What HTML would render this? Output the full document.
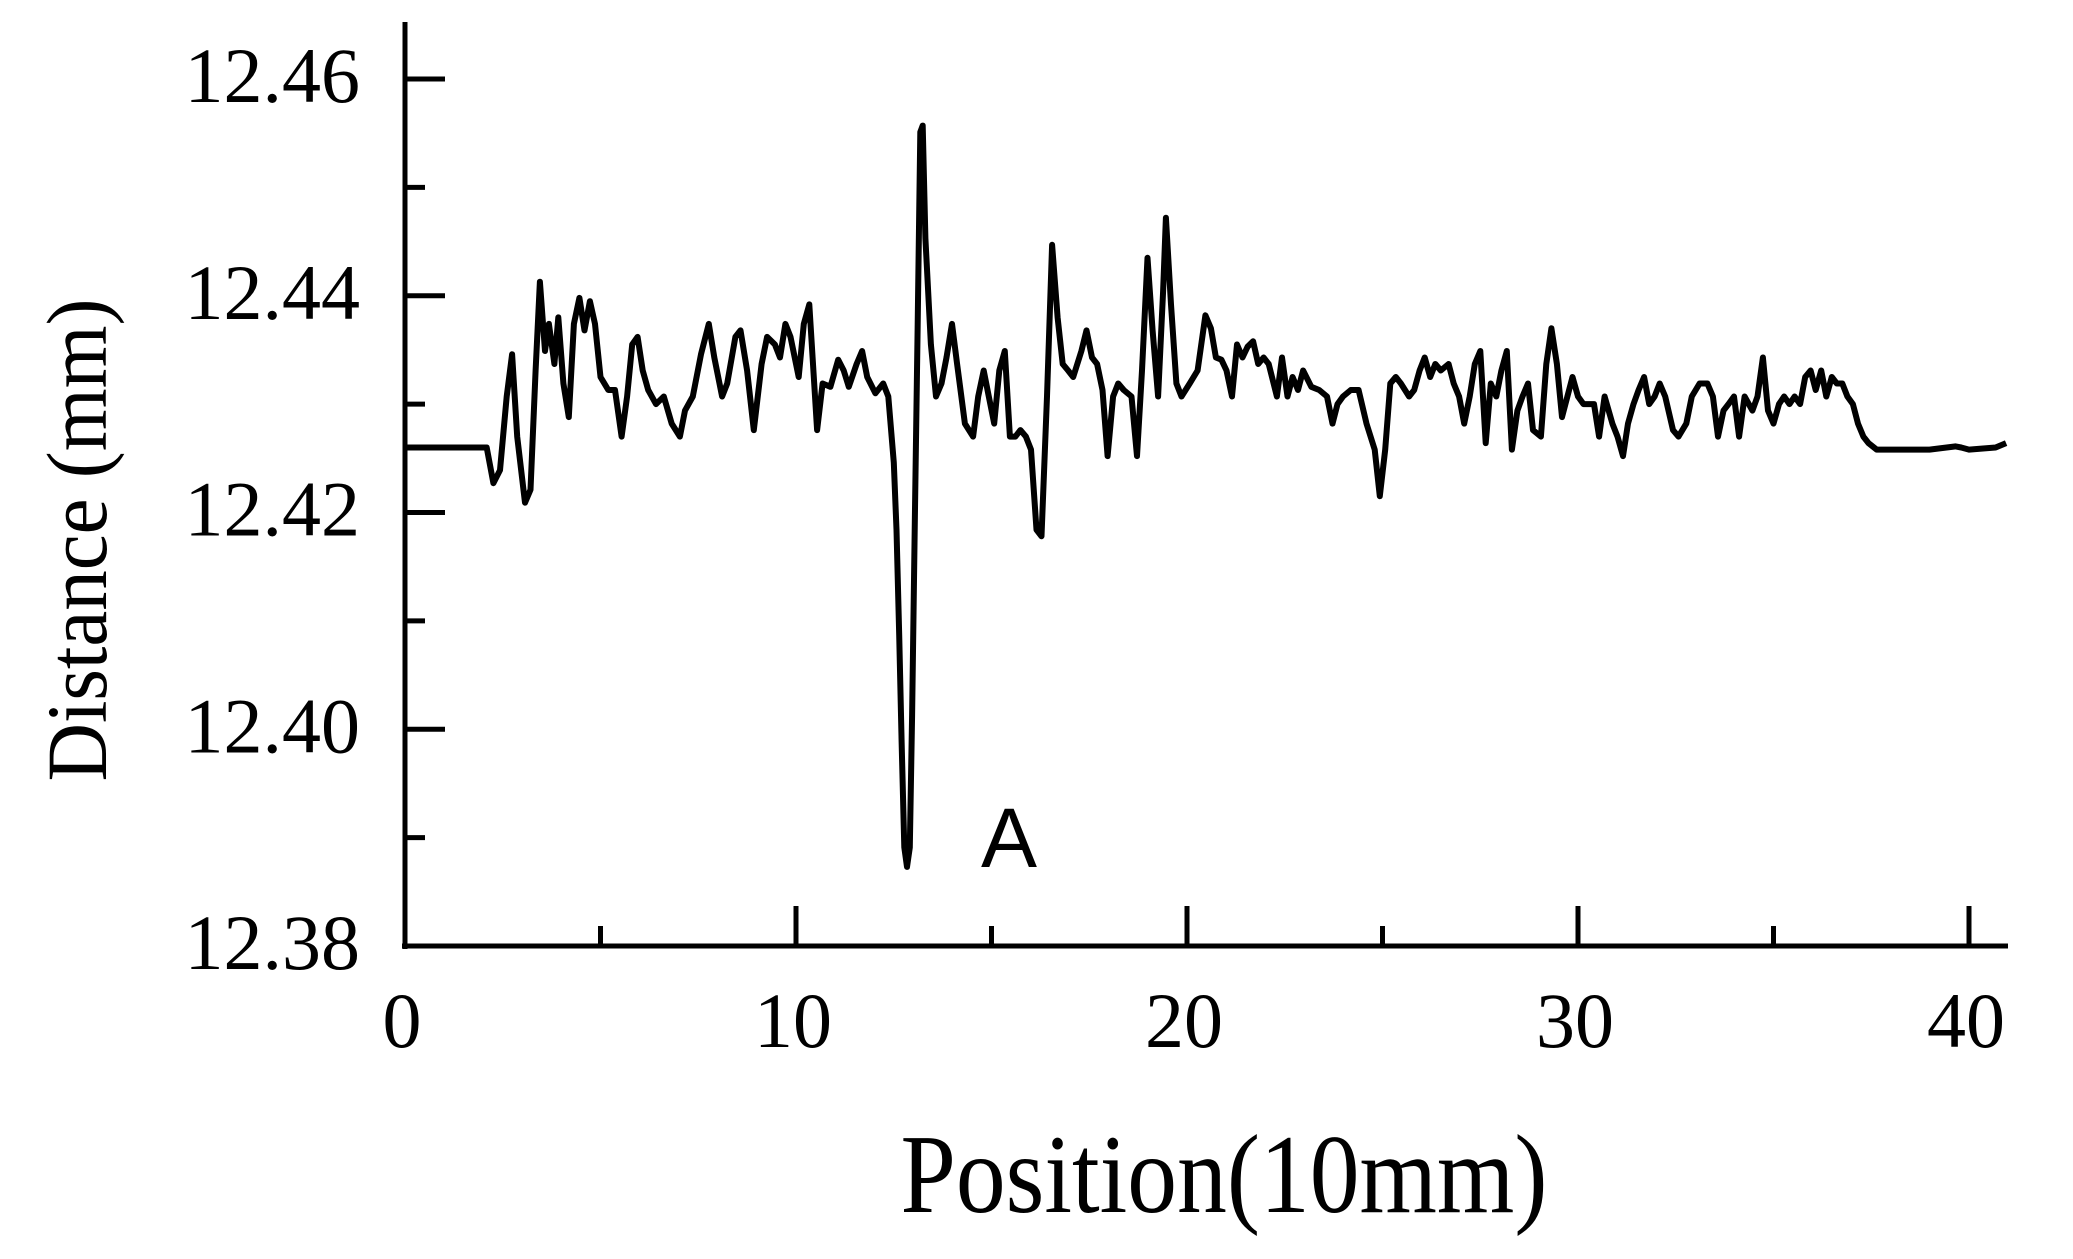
<!DOCTYPE html>
<html><head><meta charset="utf-8"><style>
html,body{margin:0;padding:0;background:#fff;}
svg{display:block;}
text{font-family:"Liberation Serif",serif;fill:#000;}
</style></head><body>
<svg id="chart" width="2073" height="1259" viewBox="0 0 2073 1259" xmlns="http://www.w3.org/2000/svg">
<g id="axes"></g>
<g id="series"></g>
<text transform="translate(106,540) rotate(-90)" text-anchor="middle" font-size="86" textLength="483" lengthAdjust="spacingAndGlyphs">Distance (mm)</text>
<text x="1224" y="1212" text-anchor="middle" font-size="112" textLength="647" lengthAdjust="spacingAndGlyphs">Position(10mm)</text>
<text x="1009" y="867" text-anchor="middle" font-size="84" style="font-family:'Liberation Sans',sans-serif">A</text>
</svg>
<script>
const xTicks=[0,10,20,30,40];
const xMinorTicks=[5,15,25,35];
const yTicks=[12.38,12.40,12.42,12.44,12.46];
const yTickLabels=["12.38","12.40","12.42","12.44","12.46"];
const yMinorTicks=[12.39,12.41,12.43,12.45];
const posX=[0,2.09,2.26,2.43,2.60,2.74,2.87,3.07,3.21,3.34,3.45,3.58,3.68,3.82,3.92,4.05,4.19,4.32,4.46,4.59,4.73,4.86,5.00,5.20,5.37,5.54,5.68,5.81,5.95,6.08,6.22,6.42,6.62,6.82,7.03,7.16,7.36,7.57,7.77,7.91,8.11,8.24,8.45,8.58,8.75,8.92,9.12,9.26,9.46,9.59,9.73,9.86,10.07,10.20,10.34,10.54,10.68,10.88,11.08,11.22,11.35,11.55,11.69,11.82,12.03,12.23,12.36,12.50,12.57,12.64,12.70,12.77,12.84,12.91,12.97,13.04,13.11,13.18,13.24,13.31,13.45,13.58,13.72,13.85,13.99,14.12,14.32,14.53,14.66,14.80,14.93,15.07,15.20,15.34,15.47,15.61,15.74,15.88,16.01,16.15,16.28,16.42,16.55,16.69,16.82,16.96,17.09,17.30,17.43,17.57,17.70,17.84,17.97,18.11,18.24,18.38,18.58,18.72,18.85,18.99,19.12,19.26,19.39,19.46,19.59,19.73,19.86,20.07,20.27,20.47,20.61,20.74,20.88,21.01,21.15,21.28,21.42,21.55,21.69,21.82,21.96,22.09,22.30,22.43,22.57,22.70,22.84,22.97,23.18,23.38,23.58,23.72,23.85,23.99,24.19,24.39,24.59,24.80,24.93,25.07,25.20,25.34,25.47,25.68,25.81,25.95,26.08,26.22,26.35,26.49,26.69,26.82,26.96,27.09,27.23,27.36,27.50,27.64,27.77,27.91,28.04,28.18,28.31,28.45,28.58,28.72,28.85,29.05,29.19,29.32,29.46,29.59,29.73,29.86,30.00,30.14,30.27,30.41,30.54,30.68,30.88,31.01,31.15,31.28,31.42,31.55,31.69,31.82,31.96,32.09,32.23,32.43,32.57,32.77,32.91,33.11,33.31,33.45,33.58,33.72,33.85,33.99,34.12,34.26,34.46,34.59,34.73,34.86,35.00,35.14,35.27,35.41,35.54,35.68,35.81,35.95,36.08,36.22,36.35,36.49,36.62,36.76,36.89,37.03,37.16,37.30,37.43,37.64,38.31,38.99,39.66,39.80,40.00,40.68,40.95];
const distance=[12.4260,12.4260,12.4227,12.4239,12.4307,12.4346,12.4270,12.4209,12.4221,12.4331,12.4413,12.4349,12.4374,12.4337,12.4380,12.4319,12.4288,12.4374,12.4398,12.4368,12.4395,12.4374,12.4325,12.4313,12.4313,12.4270,12.4307,12.4355,12.4362,12.4331,12.4313,12.4300,12.4307,12.4282,12.4270,12.4294,12.4307,12.4346,12.4374,12.4343,12.4307,12.4319,12.4362,12.4368,12.4331,12.4276,12.4337,12.4362,12.4355,12.4343,12.4374,12.4362,12.4325,12.4374,12.4392,12.4276,12.4319,12.4316,12.4341,12.4331,12.4316,12.4337,12.4349,12.4325,12.4310,12.4319,12.4307,12.4246,12.4184,12.4087,12.3989,12.3891,12.3873,12.3891,12.4013,12.4197,12.4368,12.4551,12.4557,12.4453,12.4355,12.4307,12.4319,12.4343,12.4374,12.4337,12.4282,12.4270,12.4307,12.4331,12.4307,12.4282,12.4331,12.4349,12.4270,12.4270,12.4276,12.4270,12.4258,12.4184,12.4178,12.4307,12.4447,12.4380,12.4337,12.4331,12.4325,12.4349,12.4368,12.4343,12.4337,12.4313,12.4252,12.4307,12.4319,12.4313,12.4307,12.4252,12.4331,12.4435,12.4368,12.4307,12.4404,12.4472,12.4392,12.4319,12.4307,12.4319,12.4331,12.4382,12.4370,12.4343,12.4341,12.4331,12.4307,12.4355,12.4343,12.4353,12.4358,12.4337,12.4343,12.4337,12.4307,12.4343,12.4307,12.4325,12.4313,12.4331,12.4316,12.4313,12.4307,12.4282,12.4300,12.4307,12.4313,12.4313,12.4282,12.4258,12.4215,12.4258,12.4319,12.4325,12.4319,12.4307,12.4313,12.4331,12.4343,12.4325,12.4337,12.4331,12.4337,12.4319,12.4307,12.4282,12.4307,12.4337,12.4349,12.4264,12.4319,12.4307,12.4331,12.4349,12.4258,12.4294,12.4307,12.4319,12.4276,12.4270,12.4337,12.4370,12.4337,12.4288,12.4307,12.4325,12.4307,12.4300,12.4300,12.4300,12.4270,12.4307,12.4282,12.4270,12.4252,12.4282,12.4300,12.4313,12.4325,12.4300,12.4307,12.4319,12.4307,12.4276,12.4270,12.4282,12.4307,12.4319,12.4319,12.4307,12.4270,12.4294,12.4300,12.4307,12.4270,12.4307,12.4294,12.4307,12.4343,12.4294,12.4282,12.4300,12.4307,12.4300,12.4307,12.4300,12.4325,12.4331,12.4313,12.4331,12.4307,12.4325,12.4319,12.4319,12.4307,12.4300,12.4282,12.4270,12.4264,12.4258,12.4258,12.4258,12.4261,12.4260,12.4258,12.4260,12.4264];

const X0=405, XS=39.1, Y0=946, YS=10837.5;
function sx(u){return X0+u*XS;}
function sy(v){return Y0-(v-12.38)*YS;}
const NS="http://www.w3.org/2000/svg";
const axes=document.getElementById('axes');
const series=document.getElementById('series');
function mk(tag,attrs,parent){const e=document.createElementNS(NS,tag);for(const k in attrs)e.setAttribute(k,attrs[k]);parent.appendChild(e);return e;}

const yAxis=mk('line',{x1:X0,y1:22,x2:X0,y2:Y0+3,stroke:'#000','stroke-width':5},axes);


const xAxis=mk('line',{x1:X0-3,y1:Y0,x2:2008,y2:Y0,stroke:'#000','stroke-width':5},axes);



yTicks.forEach((v,i)=>{
  const t=mk('line',{x1:X0,y1:sy(v),x2:X0+40,y2:sy(v),stroke:'#000','stroke-width':5},axes);
  
  
  const l=mk('text',{x:360,y:sy(v)+23,'text-anchor':'end','font-size':78},axes);
  l.textContent=yTickLabels[i];
  
  
});
yMinorTicks.forEach(v=>{
  const t=mk('line',{x1:X0,y1:sy(v),x2:X0+20,y2:sy(v),stroke:'#000','stroke-width':5},axes);
  
  
});
xTicks.forEach(u=>{
  const t=mk('line',{x1:sx(u),y1:Y0,x2:sx(u),y2:Y0-40,stroke:'#000','stroke-width':5},axes);
  
  
  const l=mk('text',{x:sx(u)-3,y:1047,'text-anchor':'middle','font-size':78},axes);
  l.textContent=String(u);
  
  
});
xMinorTicks.forEach(u=>{
  const t=mk('line',{x1:sx(u),y1:Y0,x2:sx(u),y2:Y0-20,stroke:'#000','stroke-width':5},axes);
  
  
});

let d='';
posX.forEach((u,i)=>{d+=(i?'L':'M')+sx(u).toFixed(1)+' '+sy(distance[i]).toFixed(1);});
const line=mk('path',{d:d,fill:'none',stroke:'#000','stroke-width':6,'stroke-linejoin':'round'},series);


</script>
</body></html>
